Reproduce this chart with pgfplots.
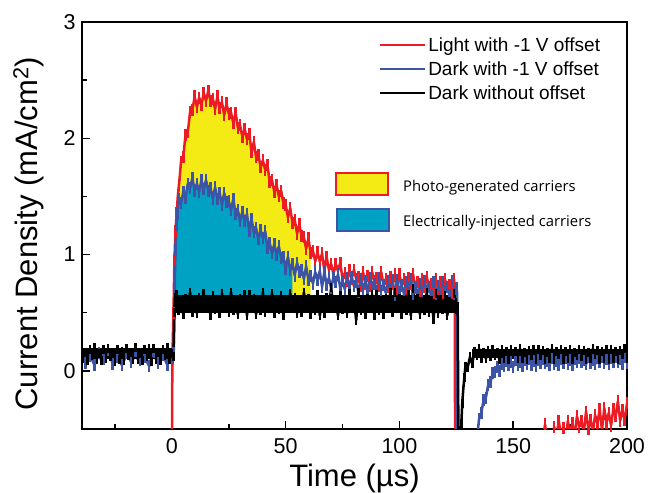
\documentclass[border=0pt]{standalone}
\usepackage{fontspec}
\setmainfont{Liberation Sans}
\newfontfamily\osans{Open Sans}
\usepackage{pgfplots}
\pgfplotsset{compat=1.18}
\usepgfplotslibrary{fillbetween}
\definecolor{cred}{RGB}{237,28,36}
\definecolor{cblue}{RGB}{59,84,165}
\definecolor{cyel}{RGB}{245,235,20}
\definecolor{ccyan}{RGB}{0,162,195}
\begin{document}
\begin{tikzpicture}
\begin{axis}[
 set layers,
 scale only axis, width=545pt, height=407pt,
 xmin=-39.5, xmax=200, ymin=-0.5, ymax=3,
 axis line style={line width=1.5pt},
 xtick={0,50,100,150,200}, ytick={0,1,2,3},
 minor xtick={-25,25,75,125,175}, minor ytick={0.5,1.5,2.5},
 tick align=inside, xtick pos=bottom, ytick pos=left,
 major tick length=8pt, minor tick length=5pt,
 every tick/.style={line width=1.5pt, black},
 tick label style={font=\fontsize{21.5}{24}\selectfont},
 /pgf/number format/assume math mode=true,
 yticklabel style={xshift=-3pt},
 xticklabel style={yshift=-6pt},
 xlabel={Time (µs)}, ylabel={Current Density (mA/cm\textsuperscript{2})},
 label style={font=\fontsize{31}{36}\selectfont},
 xlabel style={at={(axis description cs:0.5,-0.086)}, anchor=north, inner sep=0pt},
 ylabel style={at={(axis description cs:-0.0697,0.48)}, anchor=south, inner sep=0pt},
 legend style={draw=none, fill=none, at={(rel axis cs:0.5445,0.9705)}, anchor=north west, inner sep=0pt, outer sep=0pt, row sep=2.1pt, font=\fontsize{19}{22}\selectfont, nodes={inner sep=2pt, text height=15.5pt, text depth=2.4pt}},
 legend cell align=left,
 legend image code/.code={\draw[#1] (0pt,0pt) -- (45pt,0pt);},
 noisy/.style={line width=2.5pt, line join=round, mark=|, mark size=6pt, mark options={line width=2.5pt, solid}},
]
\addplot[draw=none, forget plot, name path=lowp] coordinates {(-40,0.58) (200,0.58)};
% Light with -1 V offset
\addplot[cred, noisy, forget plot, name path=redp] coordinates {
(-40,-0.9) (0,-0.9) (0.2,0.1) (0.7,0.5) (1.1,0.95) (1.6,1.2) (2.1,1.36) (2.6,1.5) (3.1,1.6) (3.5,1.68)
(4,1.80) (5,1.84) (6,2.03) (7,2.05) (8,2.23) (9,2.24) (10,2.36) (11,2.27) (12,2.35) (13,2.29) (14,2.39) (15,2.32) (16,2.41) (17,2.32) (18,2.34) (19,2.25) (20,2.36) (21,2.26) (22,2.31) (23,2.20) (24,2.30) (25,2.21) (26,2.22) (27,2.13) (28,2.22) (29,2.09) (30,2.11) (31,2.01) (32,2.08) (33,1.99) (34,2.04) (35,1.88) (36,1.97) (37,1.84) (38,1.86) (39,1.75) (40,1.81) (41,1.73) (42,1.77) (43,1.62) (44,1.64) (45,1.54) (46,1.60) (47,1.50) (48,1.55) (49,1.44) (50,1.43) (51,1.32) (52,1.40) (53,1.27) (54,1.30) (55,1.18) (56,1.26) (57,1.16) (58,1.15) (59,1.05) (60,1.14) (61,1.01) (62,1.03) (63,0.94) (64,1.02) (65,0.94) (66,1.01) (67,0.86) (68,0.98) (69,0.87) (70,0.92) (71,0.83) (72,0.92) (73,0.86) (74,0.93) (75,0.79) (76,0.84) (77,0.77) (78,0.87) (79,0.79) (80,0.87) (81,0.79) (82,0.81) (83,0.73) (84,0.85) (85,0.75) (86,0.82) (87,0.73) (88,0.85) (89,0.77) (90,0.80) (91,0.73) (92,0.85) (93,0.74) (94,0.79) (95,0.72) (96,0.81) (97,0.75) (98,0.83) (99,0.70) (100,0.83) (101,0.73) (102,0.79) (103,0.70) (104,0.80) (105,0.75) (106,0.83) (107,0.71) (108,0.76) (109,0.69) (110,0.79) (111,0.72) (112,0.81) (113,0.72) (114,0.75) (115,0.67) (116,0.79) (117,0.70) (118,0.76) (119,0.67) (120,0.79) (121,0.72) (122,0.74) (123,0.67) (124,0.79) (124.3,0.70) (124.5,-1.0) (157.5,-0.8)
(158,-0.52) (159,-0.65) (160,-0.56) (161,-0.67) (162,-0.52) (163,-0.59) (164,-0.46) (165,-0.63) (166,-0.54) (167,-0.62) (168,-0.48) (169,-0.57) (170,-0.43) (171,-0.55) (172,-0.49) (173,-0.61) (174,-0.43) (175,-0.54) (176,-0.45) (177,-0.56) (178,-0.39) (179,-0.48) (180,-0.43) (181,-0.53) (182,-0.35) (183,-0.50) (184,-0.42) (185,-0.52) (186,-0.38) (187,-0.45) (188,-0.33) (189,-0.51) (190,-0.32) (191,-0.45) (192,-0.36) (193,-0.47) (194,-0.33) (195,-0.39) (196,-0.26) (197,-0.43) (198,-0.34) (199,-0.42) (200,-0.28)};
% Dark with -1 V offset
\addplot[cblue, noisy, forget plot, name path=bluep] coordinates {
(-40,0.17) (-38,0.07) (-36,0.13) (-34,0.05) (-32,0.15) (-30,0.10) (-28,0.18) (-26,0.06) (-24,0.12) (-22,0.05) (-20,0.15) (-18,0.08) (-16,0.17) (-14,0.09) (-12,0.12) (-10,0.04) (-8,0.16) (-6,0.07) (-4,0.14) (-2,0.05) (0,0.12) (0.8,0.15) (1.2,0.7) (1.6,1.05) (2.0,1.25) (2.5,1.35)
(3,1.48) (4,1.44) (5,1.54) (6,1.49) (7,1.61) (8,1.57) (9,1.66) (10,1.55) (11,1.61) (12,1.54) (13,1.64) (14,1.56) (15,1.64) (16,1.55) (17,1.57) (18,1.48) (19,1.58) (20,1.48) (21,1.53) (22,1.43) (23,1.53) (24,1.45) (25,1.46) (26,1.38) (27,1.48) (28,1.35) (29,1.38) (30,1.29) (31,1.37) (32,1.29) (33,1.35) (34,1.20) (35,1.31) (36,1.19) (37,1.23) (38,1.13) (39,1.21) (40,1.14) (41,1.20) (42,1.06) (43,1.10) (44,1.01) (45,1.09) (46,1.00) (47,1.07) (48,0.97) (49,0.98) (50,0.88) (51,0.98) (52,0.87) (53,0.92) (54,0.82) (55,0.93) (56,0.85) (57,0.87) (58,0.79) (59,0.90) (60,0.78) (61,0.82) (62,0.75) (63,0.85) (64,0.78) (65,0.86) (66,0.72) (67,0.85) (68,0.74) (69,0.80) (70,0.71) (71,0.81) (72,0.76) (73,0.83) (74,0.71) (75,0.77) (76,0.70) (77,0.80) (78,0.72) (79,0.81) (80,0.73) (81,0.76) (82,0.68) (83,0.79) (84,0.70) (85,0.77) (86,0.68) (87,0.80) (88,0.72) (89,0.75) (90,0.68) (91,0.80) (92,0.69) (93,0.74) (94,0.67) (95,0.77) (96,0.70) (97,0.78) (98,0.65) (99,0.78) (100,0.68) (101,0.74) (102,0.66) (103,0.76) (104,0.71) (105,0.79) (106,0.66) (107,0.72) (108,0.65) (109,0.75) (110,0.68) (111,0.77) (112,0.69) (113,0.72) (114,0.64) (115,0.76) (116,0.66) (117,0.73) (118,0.64) (119,0.76) (120,0.69) (121,0.72) (122,0.65) (123,0.77) (124,0.66) (125,0.71) (125.3,0.68) (125.6,-1.0) (133.5,-1.0) (134,-0.60)
(135,-0.41) (136,-0.36) (137,-0.25) (138,-0.23) (139,-0.12) (140,-0.10) (141,-0.02) (142,-0.01) (143,0.03) (144,0.00) (145,0.06) (146,0.04) (147,0.085) (148,0.05) (149,0.072) (150,0.035) (151,0.096) (152,0.047) (153,0.078) (154,0.039) (155,0.09) (156,0.061) (157,0.102) (158,0.053) (159,0.084) (160,0.045) (161,0.095) (162,0.066) (163,0.106) (164,0.067) (165,0.087) (166,0.048) (167,0.108) (168,0.059) (169,0.089) (170,0.05) (171,0.10) (172,0.07) (173,0.111) (174,0.061) (175,0.092) (176,0.052) (177,0.103) (178,0.073) (179,0.114) (180,0.075) (181,0.095) (182,0.056) (183,0.116) (184,0.067) (185,0.097) (186,0.058) (187,0.108) (188,0.079) (189,0.119) (190,0.07) (191,0.10) (192,0.06) (193,0.11) (194,0.08) (195,0.12) (196,0.08) (197,0.10) (198,0.06) (199,0.12) (200,0.07)};
% Dark without offset: core level of the band
\addplot[black, line width=11pt, forget plot] coordinates {(-40,0.145) (0.6,0.145)};
\addplot[black, line width=18pt, forget plot] coordinates {(1.7,0.575) (125.3,0.575)};
\addplot[black, line width=9pt, forget plot] coordinates {(132,0.145) (200,0.145)};
% Dark without offset: noisy trace
\addplot[black, noisy, mark size=4.5pt, forget plot] coordinates {
(-40,0.19) (-39,0.11) (-38,0.16) (-37,0.09) (-36,0.18) (-35,0.13) (-34,0.20) (-33,0.10) (-32,0.15) (-31,0.09) (-30,0.18) (-29,0.11) (-28,0.19) (-27,0.12) (-26,0.15) (-25,0.08) (-24,0.18) (-23,0.10) (-22,0.17) (-21,0.09) (-20,0.19) (-19,0.13) (-18,0.16) (-17,0.10) (-16,0.20) (-15,0.10) (-14,0.15) (-13,0.09) (-12,0.18) (-11,0.12) (-10,0.19) (-9,0.08) (-8,0.19) (-7,0.10) (-6,0.16) (-5,0.09) (-4,0.18) (-3,0.13) (-2,0.20) (-1,0.10) (0,0.15) (0.7,0.12) (1.1,0.5) (1.4,0.63)
(2,0.655) (3,0.515) (4,0.605) (5,0.485) (6,0.625) (7,0.555) (8,0.675) (9,0.505) (10,0.585) (11,0.495) (12,0.635) (13,0.535) (14,0.665) (15,0.545) (16,0.595) (17,0.475) (18,0.645) (19,0.525) (20,0.615) (21,0.495) (22,0.665) (23,0.565) (24,0.605) (25,0.505) (26,0.675) (27,0.515) (28,0.595) (29,0.485) (30,0.625) (31,0.545) (32,0.655) (33,0.475)
(34,0.655) (35,0.545) (36,0.625) (37,0.485) (38,0.595) (39,0.515) (40,0.675) (41,0.505) (42,0.605) (43,0.565) (44,0.665) (45,0.495) (46,0.615) (47,0.525) (48,0.645) (49,0.475) (50,0.595) (51,0.545) (52,0.665) (53,0.535) (54,0.635) (55,0.495) (56,0.585) (57,0.505) (58,0.675) (59,0.555) (60,0.625) (61,0.485) (62,0.605) (63,0.515) (64,0.655) (65,0.475)
(66,0.585) (67,0.495) (68,0.635) (69,0.535) (70,0.715) (71,0.545) (72,0.595) (73,0.475) (74,0.645) (75,0.525) (76,0.615) (77,0.495) (78,0.665) (79,0.565) (80,0.605) (81,0.435) (82,0.675) (83,0.515) (84,0.595) (85,0.485) (86,0.625) (87,0.545) (88,0.655) (89,0.475) (90,0.655) (91,0.515) (92,0.605) (93,0.485) (94,0.625) (95,0.555) (96,0.675) (97,0.505)
(98,0.675) (99,0.555) (100,0.625) (101,0.485) (102,0.605) (103,0.515) (104,0.655) (105,0.475) (106,0.705) (107,0.545) (108,0.625) (109,0.485) (110,0.595) (111,0.515) (112,0.675) (113,0.505) (114,0.605) (115,0.445) (116,0.665) (117,0.495) (118,0.615) (119,0.525) (120,0.645) (121,0.475) (122,0.595) (123,0.545) (124,0.665) (125,0.525)
(125.6,0.55) (126.1,-1.2) (126.8,-0.7) (127.2,-0.45) (127.6,-0.28) (128,-0.17) (128.5,-0.06) (129,0.04) (130,0.03) (131,0.12) (132,0.06) (133,0.17) (134,0.13)
(135,0.19) (136,0.105) (137,0.155) (138,0.105) (139,0.175) (140,0.12) (141,0.185) (142,0.13) (143,0.155) (144,0.095) (145,0.18) (146,0.11) (147,0.17) (148,0.10) (149,0.185) (150,0.14) (151,0.165) (152,0.11) (153,0.19) (154,0.11) (155,0.155) (156,0.10) (157,0.175) (158,0.13) (159,0.185) (160,0.095)
(161,0.185) (162,0.13) (163,0.175) (164,0.10) (165,0.155) (166,0.11) (167,0.19) (168,0.10) (169,0.165) (170,0.14) (171,0.185) (172,0.10) (173,0.17) (174,0.11) (175,0.18) (176,0.095) (177,0.155) (178,0.13) (179,0.185) (180,0.12) (181,0.175) (182,0.10) (183,0.155) (184,0.11) (185,0.19) (186,0.14) (187,0.175) (188,0.10) (189,0.165) (190,0.11) (191,0.185) (192,0.095)
(193,0.185) (194,0.11) (195,0.165) (196,0.10) (197,0.175) (198,0.14) (199,0.19) (200,0.11)};
\addplot[cyel, draw=none, forget plot] fill between[of=redp and lowp, soft clip={domain=1.3:61}];
\addplot[ccyan, draw=none, forget plot] fill between[of=bluep and lowp, soft clip={domain=1.3:53}];
\addlegendimage{cred, line width=2.5pt}
\addlegendentry{Light with -1 V offset}
\addlegendimage{cblue, line width=2.5pt}
\addlegendentry{Dark with -1 V offset}
\addlegendimage{black, line width=2.5pt}
\addlegendentry{Dark without offset}
\end{axis}
\draw[cred, line width=1.5pt, fill=cyel] (254pt,234pt) rectangle (306pt,256pt);
\draw[cblue, line width=1.5pt, fill=ccyan] (255pt,198pt) rectangle (307pt,220pt);
\node[anchor=base west, inner sep=0pt, font=\osans\fontsize{14.8}{17}\selectfont] at (321pt,237.3pt) {Photo-generated carriers};
\node[anchor=base west, inner sep=0pt, font=\osans\fontsize{14.8}{17}\selectfont] at (321pt,202.3pt) {Electrically-injected carriers};
\pgfresetboundingbox
\useasboundingbox (-82pt,-64pt) rectangle (567pt,429pt);
\end{tikzpicture}
\end{document}
